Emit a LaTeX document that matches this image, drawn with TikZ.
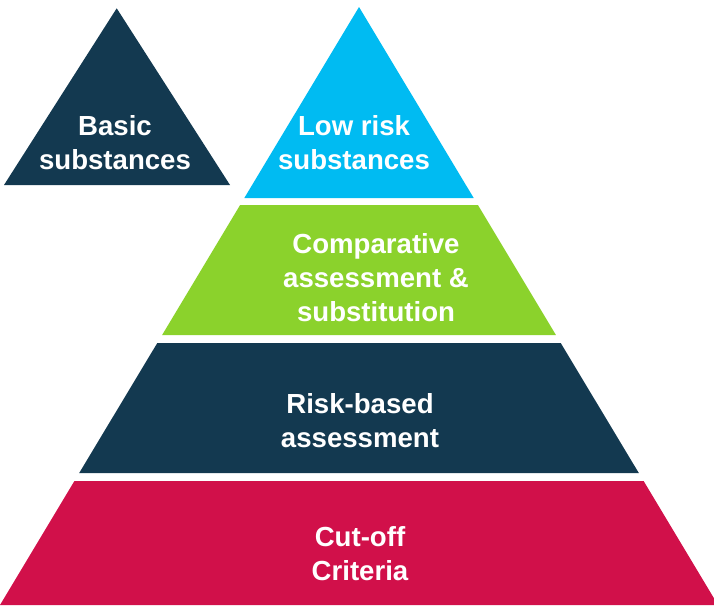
\documentclass[tikz,border=0pt]{standalone}
\usepackage{fontspec}
\setmainfont{Liberation Sans}
\usepackage{xcolor}
\usepackage{tikz}

\definecolor{navy}{RGB}{19,57,80}
\definecolor{skyblue}{RGB}{0,187,242}
\definecolor{leafgreen}{RGB}{139,210,44}
\definecolor{crimson}{RGB}{209,16,74}

\tikzset{
	tiertext/.style={text=white, align=center, inner sep=0pt,
		font=\bfseries\fontsize{27.6}{34}\selectfont}
}

\begin{document}
\begin{tikzpicture}[x=1pt, y=-1pt]
			\useasboundingbox (0,0) rectangle (714,605);
			% separate triangle on the left
			\fill[navy] (116.7,8.3) -- (230,185) -- (4,185) -- cycle;
			% pyramid, bottom tier first
			\fill[crimson] (74.4,481) -- (643.6,481) -- (718,605) -- (0,605) -- cycle;
			\fill[navy] (157.3,343) -- (560.7,343) -- (638.8,473) -- (79.2,473) -- cycle;
			\fill[leafgreen] (240.1,205) -- (477.9,205) -- (555.9,335) -- (162.1,335) -- cycle;
			\fill[skyblue] (359,7) -- (473.7,198) -- (244.3,198) -- cycle;
			% labels
			\node[tiertext] (basic) at (115,142.3) {Basic\\substances};
			\node[tiertext] (lowrisk) at (354,142.3) {Low risk\\substances};
			\node[tiertext] (comparative) at (376,277.5) {Comparative\\assessment \&\\substitution};
			\node[tiertext] (riskbased) at (360,420.5) {Risk-based\\assessment};
			\node[tiertext] (cutoff) at (360,554) {Cut-off\\Criteria};
		\end{tikzpicture}
\end{document}
